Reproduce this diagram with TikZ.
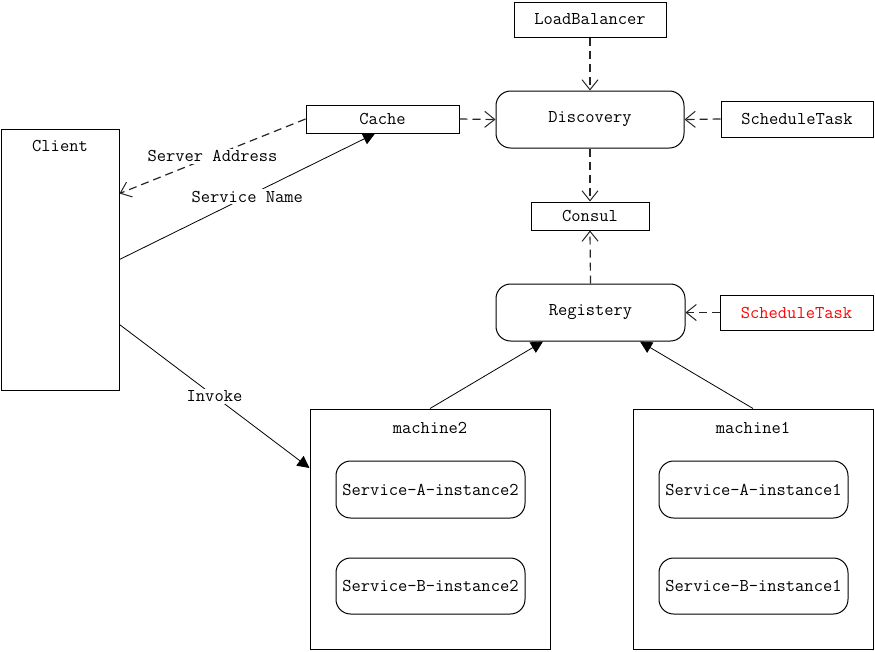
\documentclass[tikz,border=0pt]{standalone}
\usepackage{fontspec}
\usetikzlibrary{arrows.meta,calc}
\begin{document}
\begin{tikzpicture}[x=0.75pt,y=-0.75pt,
  txt/.style={font=\ttfamily\fontsize{13.5}{15}\selectfont},
  box/.style={draw=black,line width=0.75pt,inner sep=0pt,txt},
  rbox/.style={box,rounded corners=11pt},
  dasharrow/.style={draw=black!85,line width=0.9pt,dash pattern=on 6pt off 3.75pt,
    -{Straight Barb[length=7.5pt,width=12pt,line width=0.75pt]}},
  solidarrow/.style={draw=black,line width=0.6pt,-{Triangle[length=9pt,width=9pt]}},
  lbl/.style={fill=white,inner sep=1.5pt,txt}]
\useasboundingbox (0,0) rectangle (875,651);

\node[box,minimum width=114pt,minimum height=26.25pt] (lb) at (590,19.5) {LoadBalancer};
\node[rbox,minimum width=141pt,minimum height=42.75pt] (disc) at (590,119.5) {Discovery};
\node[box,minimum width=114pt,minimum height=27pt] (st1) at (797,119) {ScheduleTask};
\node[box,minimum width=114.75pt,minimum height=21pt] (cache) at (382.5,119) {\raisebox{-2.5pt}{Cache}};
\node[box,minimum width=88.5pt,minimum height=21pt] (consul) at (590,216) {Consul};
\node[rbox,minimum width=141.75pt,minimum height=42.75pt] (reg) at (590.5,312.5) {Registery};
\node[box,minimum width=114.75pt,minimum height=26.25pt,text=red] (st2) at (796.5,312.5) {ScheduleTask};
\node[box,minimum width=88.5pt,minimum height=195.75pt,
  label={[txt,anchor=center,label distance=0pt,yshift=-12.75pt]north:Client}] (client) at (60,259.5) {};
\node[box,minimum width=180pt,minimum height=180pt,
  label={[txt,anchor=center,label distance=0pt,yshift=-14.25pt]north:machine2}] (m2) at (430,529) {};
\node[box,minimum width=180pt,minimum height=180pt,
  label={[txt,anchor=center,label distance=0pt,yshift=-14.25pt]north:machine1}] (m1) at (753,529) {};
\node[rbox,minimum width=141.75pt,minimum height=42.75pt] (sa2) at (430.5,489.5) {Service-A-instance2};
\node[rbox,minimum width=141.75pt,minimum height=42pt] (sb2) at (430.5,586) {Service-B-instance2};
\node[rbox,minimum width=141.75pt,minimum height=42.75pt] (sa1) at (753.5,489.5) {Service-A-instance1};
\node[rbox,minimum width=141.75pt,minimum height=42pt] (sb1) at (753.5,586) {Service-B-instance1};

\draw[dasharrow] (lb.south) -- (disc.north);
\draw[dasharrow] (st1.west) -- (disc.east);
\draw[dasharrow] (cache.east) -- (disc.west);
\draw[dasharrow] (disc.south) -- (consul.north);
\draw[dasharrow] (reg.north) -- (consul.south);
\draw[dasharrow] (st2.west) -- (reg.east);
\draw[dasharrow] (cache.west) -- node[lbl]{Server Address} ([yshift=49.5pt]client.east);
\draw[solidarrow] (client.east) -- node[lbl]{Service Name} ([xshift=-5.6pt]cache.south);
\draw[solidarrow] ([yshift=-48.75pt]client.east) -- node[lbl]{Invoke} ([yshift=45.75pt]m2.west);
\draw[solidarrow] (m2.north) -- ([xshift=-35.6pt]reg.south);
\draw[solidarrow] (m1.north) -- ([xshift=37.1pt]reg.south);
\end{tikzpicture}
\end{document}
